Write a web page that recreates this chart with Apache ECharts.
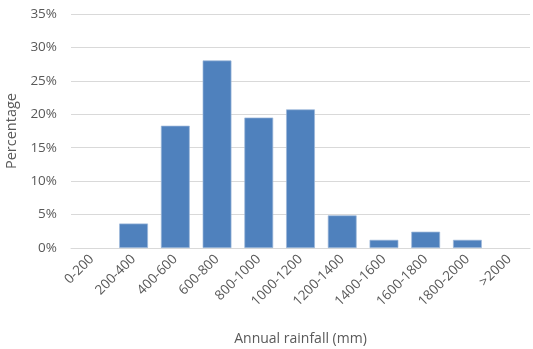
<!DOCTYPE html>
<html><head><meta charset="utf-8">
<script src="https://cdn.jsdelivr.net/npm/echarts@6/dist/echarts.min.js"></script>
<style>html,body{margin:0;padding:0;background:#fff}#c{width:533px;height:349px}</style>
</head><body><div id="c"></div>
<script>
const categories = ['0-200','200-400','400-600','600-800','800-1000','1000-1200','1200-1400','1400-1600','1600-1800','1800-2000','>2000'];
const percentages = [0, 3.66, 18.29, 28.05, 19.51, 20.73, 4.88, 1.22, 2.44, 1.22, 0];
const yTicks = [0, 5, 10, 15, 20, 25, 30, 35];

const font = 'Open Sans';
const chart = echarts.init(document.getElementById('c'), null, {renderer: 'canvas'});
chart.setOption({
  animation: false,
  grid: {left: 71, right: 3, top: 14, bottom: 101, containLabel: false, outerBoundsMode: 'none'},
  xAxis: {
    type: 'category', data: categories,
    name: 'Annual rainfall (mm)', nameLocation: 'middle', nameGap: 84,
    nameTextStyle: {color: '#595959', fontSize: 14, fontFamily: font},
    axisLine: {lineStyle: {color: '#d9d9d9'}},
    axisTick: {show: false},
    axisLabel: {rotate: 45, color: '#595959', fontSize: 13.5, fontFamily: font, margin: 9, interval: 0}
  },
  yAxis: {
    type: 'value', min: yTicks[0], max: yTicks[yTicks.length-1], interval: 5,
    name: 'Percentage', nameLocation: 'middle', nameGap: 48,
    nameTextStyle: {color: '#595959', fontSize: 14.5, fontFamily: font},
    axisLine: {show: false}, axisTick: {show: false},
    axisLabel: {color: '#595959', fontSize: 13.5, fontFamily: font, margin: 14, formatter: v => v + '%'},
    splitLine: {lineStyle: {color: '#d9d9d9'}}
  },
  series: [{
    type: 'bar', barCategoryGap: '31%',
    data: percentages.map(v => v > 0 ? v : {value: v, itemStyle: {borderWidth: 0}}),
    itemStyle: {color: '#4f81bd', borderColor: '#9db7da', borderWidth: 0.7}
  }]
});
</script></body></html>
